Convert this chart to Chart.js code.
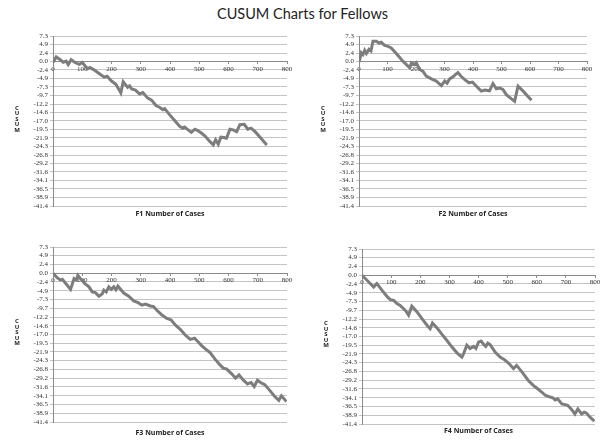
<!DOCTYPE html>
<html>
<head>
<meta charset="utf-8">
<script src="https://cdn.jsdelivr.net/npm/chart.js@4.4.0/dist/chart.umd.min.js"></script>
<style>
  html, body { margin: 0; padding: 0; background: #fff; }
  body { width: 605px; height: 440px; position: relative; overflow: hidden; }
  #title { position: absolute; left: 0; top: 5px; width: 605px; text-align: center;
           font: 14.5px Lato, sans-serif; line-height: 18px; color: #222; }
  canvas { position: absolute; }
</style>
</head>
<body>
<div id="title">CUSUM Charts for Fellows</div>
<canvas id="f1"></canvas>
<canvas id="f2"></canvas>
<canvas id="f3"></canvas>
<canvas id="f4"></canvas>
<script>
// y axis tick labels, same on all four panels
const yTicks = [7.3, 4.9, 2.4, 0.0, -2.4, -4.9, -7.3, -9.7, -12.2, -14.6, -17.0,
                -19.5, -21.9, -24.3, -26.8, -29.2, -31.6, -34.1, -36.5, -38.9, -41.4];
const xMin = 0, xMax = 800, xStep = 100;
const yTitle = 'CUSUM';

// F1
const f1Cases = [0, 11, 25, 35, 45, 52, 62, 75, 90, 100, 110, 118, 126, 140, 160, 175, 185, 200, 215, 232,
                 240, 255, 262, 269, 282, 296, 307, 324, 336, 353, 364, 376, 382, 399, 416, 433, 444, 450, 462, 473,
                 485, 495, 507, 519, 536, 548, 556, 565, 574, 584, 593, 605, 616, 628, 639, 654, 666, 677, 691, 711, 731];
const f1Cusum = [-0.3, 1.3, 0.5, -0.2, 0.1, -0.9, 0.5, -0.3, -0.8, -0.3, -1.3, -2.1, -1.7, -2.4, -3.6, -4.5, -4.2, -5.6, -6.5, -9.0,
                 -5.8, -7.4, -7.0, -7.9, -8.2, -9.3, -8.9, -10.5, -11.0, -12.7, -13.1, -13.8, -13.5, -15.3, -16.9, -18.6, -19.1, -18.8, -19.6, -20.3,
                 -19.4, -19.8, -20.5, -21.3, -22.9, -23.9, -22.4, -23.7, -21.7, -21.8, -22.0, -19.4, -19.6, -20.1, -18.1, -18.0, -19.4, -19.1, -20.1, -22.0, -23.9];

// F2
const f2Cases = [0, 4, 8, 14, 20, 26, 35, 42, 49, 61, 70, 78, 90, 100, 113, 131, 154, 178, 184, 195,
                 201, 213, 224, 236, 254, 271, 289, 301, 309, 318, 330, 339, 347, 359, 371, 386, 398, 412, 429, 441,
                 458, 470, 482, 494, 505, 517, 535, 546, 558, 576, 605];
const f2Cusum = [-0.2, 1.0, 2.5, 2.0, 3.2, 2.3, 3.5, 3.0, 5.8, 5.8, 5.3, 5.5, 4.6, 4.4, 3.9, 2.3, 0.1, -1.8, -0.4, -0.9,
                 -0.4, -2.3, -2.8, -4.2, -5.0, -5.6, -6.9, -5.6, -6.2, -5.0, -4.4, -3.7, -3.2, -4.3, -5.2, -6.1, -5.9, -7.1, -8.5, -8.2,
                 -8.4, -6.3, -7.8, -7.6, -8.0, -9.5, -10.7, -11.4, -7.1, -8.5, -11.1];

// F3
const f3Cases = [0, 15, 26, 32, 45, 60, 72, 80, 85, 94, 109, 123, 134, 145, 157, 168, 174, 182, 191, 199,
                 208, 215, 222, 242, 259, 276, 291, 304, 316, 333, 344, 355, 372, 389, 404, 418, 435, 452, 469, 484,
                 495, 509, 525, 537, 554, 571, 582, 594, 611, 624, 636, 650, 665, 677, 688, 699, 713, 724, 741, 758,
                 772, 781, 798];
const f3Cusum = [0, -1.3, -1.9, -1.7, -3.0, -4.5, -1.5, -1.9, -0.6, -1.5, -2.9, -3.8, -5.2, -5.4, -6.4, -5.8, -4.7, -5.2, -3.8, -4.5,
                 -3.8, -4.6, -3.6, -5.5, -6.4, -7.7, -8.2, -8.9, -8.6, -9.1, -9.3, -10.3, -11.6, -12.6, -13.0, -14.4, -15.6, -17.2, -18.4, -18.1,
                 -19.0, -20.2, -21.3, -22.1, -23.9, -25.5, -26.4, -26.7, -28.0, -29.2, -28.3, -29.7, -30.8, -30.4, -31.5, -29.8, -30.6, -31.0, -32.6, -34.3,
                 -35.4, -34.1, -35.7];

// F4
const f4Cases = [0, 23, 40, 51, 69, 86, 97, 109, 120, 131, 149, 160, 171, 189, 206, 223, 234, 242, 257, 274,
                 291, 309, 326, 343, 349, 360, 371, 383, 391, 400, 409, 417, 425, 432, 440, 457, 474, 489, 505, 520,
                 531, 549, 571, 589, 603, 617, 629, 646, 655, 663, 672, 686, 697, 706, 718, 731, 741, 754, 763, 771,
                 783, 798];
const f4Cusum = [0, -1.9, -3.3, -2.3, -4.2, -5.9, -6.8, -7.0, -7.9, -8.4, -9.8, -11.1, -8.6, -10.2, -12.1, -13.9, -14.9, -13.3, -14.6, -16.4,
                 -18.1, -20.0, -21.6, -22.8, -21.8, -19.5, -20.4, -19.8, -20.4, -18.6, -18.3, -19.2, -19.8, -18.9, -19.3, -21.4, -22.8, -23.5, -24.6, -26.0,
                 -25.1, -26.9, -29.3, -30.7, -31.6, -32.5, -33.4, -33.9, -34.1, -34.7, -34.4, -35.8, -36.0, -36.2, -37.2, -38.6, -37.2, -38.6, -38.1, -38.4,
                 -39.5, -40.6];

const panels = [
  {id: 'f1', label: 'F1 Number of Cases', cases: f1Cases, cusum: f1Cusum, area: [53, 36, 287, 206], gap: 7.5},
  {id: 'f2', label: 'F2 Number of Cases', cases: f2Cases, cusum: f2Cusum, area: [359, 36, 587, 206], gap: 7.5},
  {id: 'f3', label: 'F3 Number of Cases', cases: f3Cases, cusum: f3Cusum, area: [53, 247, 287, 422], gap: 11},
  {id: 'f4', label: 'F4 Number of Cases', cases: f4Cases, cusum: f4Cusum, area: [362, 249, 595, 424], gap: 7}
];

const Y_WIDTH = 40, PAD_L = 5, PAD_T = 8, PAD_R = 10, TITLE_LINE = 8.4;

// letters of the y title stacked one under the other, like the spreadsheet
const stackedYTitle = {
  id: 'stackedYTitle',
  afterDraw(chart) {
    const {ctx, chartArea} = chart;
    const letters = yTitle.split('');
    const step = 5.6;
    const cx = chartArea.left - 36;
    const cy = (chartArea.top + chartArea.bottom) / 2 - 2;
    ctx.save();
    ctx.font = 'bold 6px "Open Sans"';
    ctx.fillStyle = '#222';
    ctx.textAlign = 'center';
    ctx.textBaseline = 'middle';
    letters.forEach((ch, i) => ctx.fillText(ch, cx, cy + (i - (letters.length - 1) / 2) * step));
    ctx.restore();
  }
};

panels.forEach(p => {
  const [L, T, R, B] = p.area;
  const cv = document.getElementById(p.id);
  const left = L - Y_WIDTH - PAD_L;
  const top = T - PAD_T;
  const padTop = p.gap - TITLE_LINE / 2;
  const h = Math.ceil(PAD_T + (B - T) + padTop + TITLE_LINE + 2);
  const padBottom = h - PAD_T - (B - T) - padTop - TITLE_LINE;
  cv.style.left = left + 'px';
  cv.style.top = top + 'px';
  cv.width = R - left + PAD_R;
  cv.height = h;

  new Chart(cv.getContext('2d'), {
    type: 'line',
    data: {
      datasets: [{
        data: p.cases.map((c, i) => ({x: c, y: p.cusum[i]})),
        borderColor: '#7d7d7d',
        borderWidth: 3,
        pointRadius: 0,
        tension: 0,
        fill: false
      }]
    },
    options: {
      responsive: false,
      animation: false,
      layout: {padding: {left: PAD_L, top: PAD_T, right: PAD_R, bottom: 0}},
      scales: {
        x: {
          type: 'linear',
          position: {y: 0},
          min: xMin,
          max: xMax,
          ticks: {
            stepSize: xStep,
            autoSkip: false,
            maxRotation: 0,
            padding: 1,
            color: '#333',
            font: {family: '"Liberation Serif", serif', size: 7}
          },
          grid: {drawOnChartArea: false, drawTicks: true, tickLength: 2, color: '#8a8a8a'},
          border: {display: true, color: '#8a8a8a', width: 1}
        },
        y: {
          type: 'linear',
          min: yTicks[yTicks.length - 1],
          max: yTicks[0],
          afterBuildTicks: s => { s.ticks = yTicks.map(v => ({value: v})); },
          afterFit: s => { s.width = Y_WIDTH; },
          ticks: {
            autoSkip: false,
            padding: 2,
            color: '#333',
            font: {family: '"Liberation Serif", serif', size: 7},
            callback: v => Number(v).toFixed(1)
          },
          grid: {color: '#c4c4c4', tickLength: 3, lineWidth: 1},
          border: {display: true, color: '#8a8a8a', width: 1},
          title: {display: false, text: yTitle}
        }
      },
      plugins: {
        legend: {display: false},
        tooltip: {enabled: false},
        title: {
          display: true,
          position: 'bottom',
          fullSize: false,
          text: p.label,
          color: '#222',
          font: {family: '"Open Sans", sans-serif', size: 7, weight: 'bold', lineHeight: 1.2},
          padding: {top: padTop, bottom: padBottom}
        }
      }
    },
    plugins: [stackedYTitle]
  });
});
</script>
</body>
</html>
